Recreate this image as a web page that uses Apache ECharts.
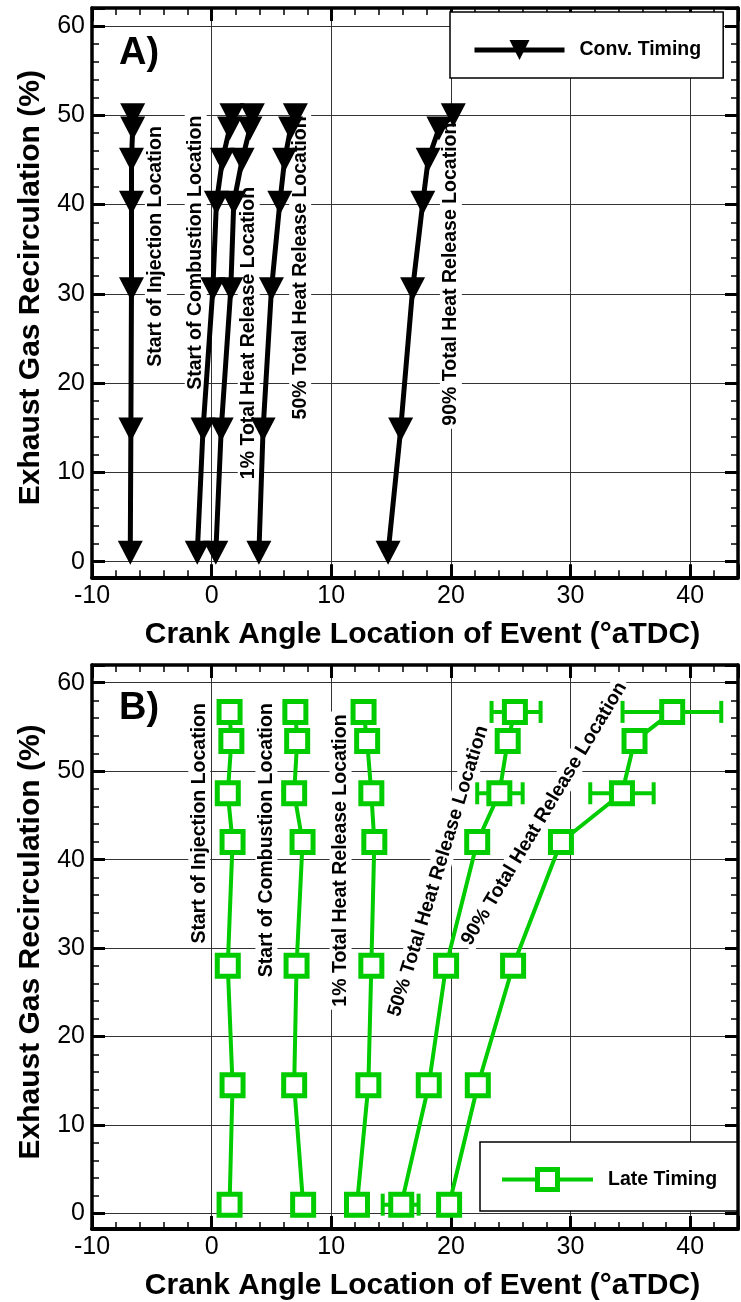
<!DOCTYPE html>
<html>
<head>
<meta charset="utf-8">
<script src="https://cdn.jsdelivr.net/npm/echarts@6/dist/echarts.min.js"></script>
<style>
  html, body { margin: 0; padding: 0; background: #fff; }
  #chart { width: 741px; height: 1302px; }
</style>
</head>
<body>
<div id="chart"></div>
<script>
// ---- Panel A: conventional injection timing (EGR %, crank angle °aTDC) ----
const egrConv = [1, 14.8, 30.5, 40.2, 45, 48.5, 50];
const convSOI = [-6.8, -6.75, -6.7, -6.7, -6.7, -6.6, -6.6];
const convSOC = [-1.2, -0.72, 0.1, 0.4, 0.9, 1.5, 1.7];
const convCA01 = [0.35, 0.8, 1.6, 1.85, 2.55, 3.2, 3.4];
const convCA50 = [3.95, 4.3, 5.0, 5.7, 6.1, 6.6, 7.0];
const convCA90 = [14.75, 15.8, 16.8, 17.65, 18.1, 19.0, 20.2];

// ---- Panel B: late injection timing ----
const egrLate = [1, 14.5, 28, 42, 47.5, 53.4, 56.7];
const lateSOI = [1.5, 1.75, 1.35, 1.75, 1.35, 1.65, 1.5];
const lateSOC = [7.65, 6.9, 7.1, 7.6, 6.9, 7.15, 7.0];
const lateCA01 = [12.15, 13.1, 13.35, 13.6, 13.35, 13.0, 12.7];
const lateCA50 = [15.85, 18.15, 19.6, 22.2, 24.05, 24.75, 25.35];
const lateCA90 = [19.85, 22.25, 25.2, 29.2, 34.3, 35.35, 38.5];

// cycle-to-cycle spread: [EGR, low, high]
const lateCA50Spread = [[1, 14.3, 17.3], [47.5, 22.2, 26.0], [56.7, 23.4, 27.5]];
const lateCA90Spread = [[47.5, 31.65, 36.95], [56.7, 34.35, 42.6]];

const eventNames = [
  'Start of Injection Location',
  'Start of Combustion Location',
  '1% Total Heat Release Location',
  '50% Total Heat Release Location',
  '90% Total Heat Release Location'
];
const legendConv = 'Conv. Timing';
const legendLate = 'Late Timing';
const xTitle = 'Crank Angle Location of Event (\u00B0aTDC)';
const yTitle = 'Exhaust Gas Recirculation (%)';
const xRange = [-10, 44];
const yRange = [-1.75, 62];

// ---- layout / style ----
const FONT = '"Liberation Sans", Arial, Helvetica, sans-serif';
const GREEN = '#00cc00';
const GRID_LINE = '#333333';

// label anchors (data coordinates) and rotation for the event names
const convLabelAt = [[-4.66, 35.3, 90], [-1.33, 34.6, 90], [3.1, 25.6, 90], [7.4, 32.9, 90], [20.0, 32.2, 90]];
const lateLabelAt = [[-1.03, 44.1, 90], [4.58, 42.2, 90], [10.78, 39.9, 90], [18.95, 38.7, 73], [27.8, 45.2, 59]];

const zip = (xs, ys) => xs.map((x, i) => [x, ys[i]]);

function xAxisPair(gridIndex) {
  const common = {
    type: 'value', gridIndex, min: xRange[0], max: xRange[1], splitNumber: 6,
    axisTick: { show: true, inside: true, length: 13, lineStyle: { color: '#000', width: 3 } },
    minorTick: { show: true, splitNumber: 5, length: 7, lineStyle: { color: '#000', width: 1.5 } }
  };
  return [
    Object.assign({}, common, {
      position: 'bottom',
      axisLine: { show: true, onZero: false, lineStyle: { color: '#000', width: 4 } },
      splitLine: { show: true, lineStyle: { color: GRID_LINE, width: 1 } },
      axisLabel: {
        show: true, margin: 6, color: '#000', fontFamily: FONT, fontSize: 25,
        formatter: v => (v % 10 === 0 ? String(v) : '')
      },
      name: xTitle, nameLocation: 'middle', nameGap: 42,
      nameTextStyle: { color: '#000', fontFamily: FONT, fontSize: 30, fontWeight: 'bold', padding: [0, 0, 0, 15] }
    }),
    Object.assign({}, common, {
      position: 'top',
      axisLine: { show: true, onZero: false, lineStyle: { color: '#000', width: 3.5 } },
      splitLine: { show: false },
      axisLabel: { show: false }
    })
  ];
}

function yAxisPair(gridIndex) {
  const common = {
    type: 'value', gridIndex, min: yRange[0], max: yRange[1], splitNumber: 6,
    axisTick: { show: true, inside: true, length: 13, lineStyle: { color: '#000', width: 3 } },
    minorTick: { show: true, splitNumber: 5, length: 7, lineStyle: { color: '#000', width: 1.5 } }
  };
  return [
    Object.assign({}, common, {
      position: 'left',
      axisLine: { show: true, onZero: false, lineStyle: { color: '#000', width: 3.5 } },
      splitLine: { show: true, lineStyle: { color: GRID_LINE, width: 1 } },
      axisLabel: {
        show: true, margin: 7, color: '#000', fontFamily: FONT, fontSize: 25,
        formatter: v => (v % 10 === 0 ? String(v) : '')
      },
      name: yTitle, nameLocation: 'middle', nameGap: 46, nameRotate: 90,
      nameTextStyle: { color: '#000', fontFamily: FONT, fontSize: 30, fontWeight: 'bold', padding: [0, 0, 0, 10] }
    }),
    Object.assign({}, common, {
      position: 'right',
      axisLine: { show: true, onZero: false, lineStyle: { color: '#000', width: 3.5 } },
      splitLine: { show: false },
      axisLabel: { show: false }
    })
  ];
}

function eventSeries(name, axisIndex, xs, ys, look) {
  return {
    type: 'line', name, xAxisIndex: axisIndex, yAxisIndex: axisIndex, z: 3,
    data: zip(xs, ys),
    symbol: look.symbol, symbolSize: look.symbolSize, symbolRotate: look.symbolRotate || 0,
    showAllSymbol: true, clip: false,
    lineStyle: { color: look.color, width: look.lineWidth },
    itemStyle: look.itemStyle,
    emphasis: { disabled: true },
    animation: false
  };
}

// event names written along each curve, on a white backing that breaks the grid lines
function labelSeries(axisIndex, anchors) {
  return {
    type: 'scatter', xAxisIndex: axisIndex, yAxisIndex: axisIndex, z: 1,
    symbol: 'circle', symbolSize: 0.1,
    itemStyle: { color: 'rgba(255,255,255,0)', opacity: 1 },
    emphasis: { disabled: true },
    silent: true, animation: false,
    data: anchors.map((a, i) => ({ value: [a[0], a[1]], label: { rotate: a[2], formatter: eventNames[i] } })),
    label: {
      show: true, position: 'inside', align: 'center', verticalAlign: 'middle',
      color: '#000', opacity: 1, textBorderWidth: 0,
      fontFamily: FONT, fontSize: 19.5, fontWeight: 'bold',
      backgroundColor: '#fff', padding: [1, 3]
    }
  };
}

function spreadSeries(axisIndex, rows) {
  return {
    type: 'custom', xAxisIndex: axisIndex, yAxisIndex: axisIndex, z: 2,
    data: rows.map(r => [r[1], r[2], r[0]]),
    encode: { x: [0, 1], y: 2 },
    animation: false, silent: true,
    renderItem(params, api) {
      const y = api.value(2);
      const a = api.coord([api.value(0), y]);
      const b = api.coord([api.value(1), y]);
      const cap = 11;
      const st = { stroke: GREEN, lineWidth: 4 };
      return {
        type: 'group',
        children: [
          { type: 'line', shape: { x1: a[0], y1: a[1], x2: b[0], y2: b[1] }, style: st },
          { type: 'line', shape: { x1: a[0], y1: a[1] - cap, x2: a[0], y2: a[1] + cap }, style: st },
          { type: 'line', shape: { x1: b[0], y1: b[1] - cap, x2: b[0], y2: b[1] + cap }, style: st }
        ]
      };
    }
  };
}

const convLook = {
  symbol: 'triangle', symbolSize: [25, 24], symbolRotate: 180,
  color: '#000', lineWidth: 5,
  itemStyle: { color: '#000' }
};
const lateLook = {
  symbol: 'rect', symbolSize: 21,
  color: GREEN, lineWidth: 4,
  itemStyle: { color: '#fff', borderColor: GREEN, borderWidth: 5 }
};

const convSeries = [convSOI, convSOC, convCA01, convCA50, convCA90]
  .map(xs => eventSeries(legendConv, 0, xs, egrConv, convLook));
const lateSeries = [lateSOI, lateSOC, lateCA01, lateCA50, lateCA90]
  .map(xs => eventSeries(legendLate, 2, xs, egrLate, lateLook));

const legendText = { color: '#000', fontFamily: FONT, fontSize: 19.5, fontWeight: 'bold', padding: [0, 0, 0, 10] };

const option = {
  animation: false,
  backgroundColor: '#fff',
  textStyle: { fontFamily: FONT },
  grid: [
    { left: 92, top: 8, width: 649, height: 569.3, containLabel: false },
    { left: 92, top: 665, width: 649, height: 569.3, containLabel: false }
  ],
  xAxis: [...xAxisPair(0), ...xAxisPair(1)],
  yAxis: [...yAxisPair(0), ...yAxisPair(1)],
  legend: [
    {
      data: [legendConv], left: 450, top: 12, orient: 'horizontal',
      itemWidth: 90, itemHeight: 25,
      padding: [28, 22, 18, 22],
      backgroundColor: '#fff', borderColor: '#000', borderWidth: 1.5, borderRadius: 0,
      lineStyle: { color: '#000', width: 5 },
      itemStyle: { color: '#000', borderWidth: 0 },
      textStyle: legendText,
      selectedMode: false
    },
    {
      data: [legendLate], left: 480, top: 1142, orient: 'horizontal',
      itemWidth: 91, itemHeight: 25,
      padding: [25, 20, 19, 20],
      backgroundColor: '#fff', borderColor: '#000', borderWidth: 1.5, borderRadius: 0,
      lineStyle: { color: GREEN, width: 4 },
      itemStyle: { color: '#fff', borderColor: GREEN, borderWidth: 5 },
      textStyle: legendText,
      selectedMode: false
    }
  ],
  graphic: [
    { type: 'text', left: 119, top: 35, z: 10, style: { text: 'A)', font: 'bold 38px ' + FONT, fill: '#000' } },
    { type: 'text', left: 119, top: 690, z: 10, style: { text: 'B)', font: 'bold 38px ' + FONT, fill: '#000' } }
  ],
  series: [
    labelSeries(0, convLabelAt),
    ...convSeries,
    labelSeries(2, lateLabelAt),
    spreadSeries(2, lateCA50Spread),
    spreadSeries(2, lateCA90Spread),
    ...lateSeries
  ]
};

const chart = echarts.init(document.getElementById('chart'), null, { renderer: 'canvas' });
chart.setOption(option);
</script>
</body>
</html>
